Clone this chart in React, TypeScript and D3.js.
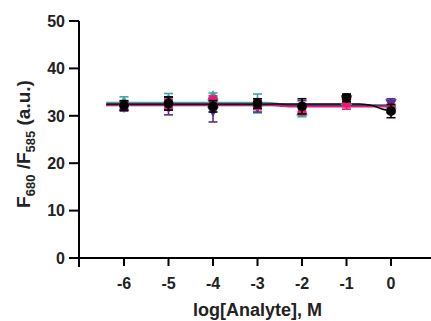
import React from "react";
import * as d3 from "d3";

// concentrations (log M)
const concentrations = [-6, -5, -4, -3, -2, -1, 0];
const xTicks = [-6, -5, -4, -3, -2, -1, 0];
const yTicks = [0, 10, 20, 30, 40, 50];

// mean ratios and SD per analyte
const tealMean = [32.8, 33.2, 34.0, 32.6, 30.8, 33.0, 32.2];
const tealErr = [1.2, 1.5, 0.8, 2.0, 1.0, 1.0, 1.0];
const purpleMean = [32.0, 32.0, 31.2, 32.0, 32.0, 33.6, 32.8];
const purpleErr = [1.0, 1.8, 2.5, 1.2, 1.2, 0.8, 0.8];
const pinkMean = [32.0, 32.4, 33.2, 32.3, 31.2, 32.6, 31.4];
const pinkErr = [0.8, 1.0, 1.0, 1.0, 1.0, 1.2, 0.8];
const blackMean = [32.2, 32.6, 32.0, 32.6, 32.0, 33.8, 31.0];
const blackErr = [1.0, 1.4, 1.2, 1.0, 1.6, 0.8, 1.4];

// fitted curves
const tealFitX = [-6.4, -2.8, -2.5, -2.2, 0];
const tealFitY = [32.8, 32.8, 32.5, 32.2, 32.2];
const pinkFitX = [-6.4, -2.8, -2.5, -2.2, 0];
const pinkFitY = [32.3, 32.3, 32.1, 31.9, 31.9];
const purpleFitX = [-6.4, 0];
const purpleFitY = [32.2, 32.2];
const blackFitX = [-6.4, -0.7, -0.4, -0.15, 0];
const blackFitY = [32.5, 32.5, 32.1, 31.3, 31.1];

const font = "'Liberation Sans', Arial, sans-serif";

const series = [
  { name: "teal", color: "#3aa8a2", mean: tealMean, err: tealErr, fx: tealFitX, fy: tealFitY, shape: "triangle" },
  { name: "purple", color: "#5b2d8c", mean: purpleMean, err: purpleErr, fx: purpleFitX, fy: purpleFitY, shape: "triangleDown" },
  { name: "pink", color: "#ec1a72", mean: pinkMean, err: pinkErr, fx: pinkFitX, fy: pinkFitY, shape: "square" },
  { name: "black", color: "#000000", mean: blackMean, err: blackErr, fx: blackFitX, fy: blackFitY, shape: "circle" },
];

const App = () => {
  const width = 431;
  const height = 321;
  const axisX = 79;
  const axisY = 258;

  const xScale = d3.scaleLinear().domain([-6, 0]).range([124, 391]);
  const yScale = d3.scaleLinear().domain([0, 50]).range([axisY, 21]);

  const line = d3
    .line<[number, number]>()
    .x((d) => xScale(d[0]))
    .y((d) => yScale(d[1]))
    .curve(d3.curveMonotoneX);

  const symbolFor = (shape: string) =>
    shape === "triangle"
      ? d3.symbol().type(d3.symbolTriangle).size(60)()
      : shape === "triangleDown"
      ? d3.symbol().type(d3.symbolTriangle).size(60)()
      : shape === "square"
      ? d3.symbol().type(d3.symbolSquare).size(70)()
      : d3.symbol().type(d3.symbolCircle).size(75)();

  return (
    <svg
      width={width}
      height={height}
      style={{ position: "absolute", left: 0, top: 0, background: "#fff" }}
    >
      {/* fitted lines */}
      {series.map((s) => (
        <path
          key={s.name + "-fit"}
          d={line(s.fx.map((x, i) => [x, s.fy[i]] as [number, number])) || ""}
          fill="none"
          stroke={s.color}
          strokeWidth={1.6}
        />
      ))}

      {/* error bars + markers */}
      {series.map((s) => (
        <g key={s.name}>
          {concentrations.map((c, i) => {
            const cx = xScale(c);
            const yTop = yScale(s.mean[i] + s.err[i]);
            const yBot = yScale(s.mean[i] - s.err[i]);
            return (
              <g key={c} stroke={s.color} strokeWidth={1.6}>
                <line x1={cx} x2={cx} y1={yTop} y2={yBot} />
                <line x1={cx - 4.5} x2={cx + 4.5} y1={yTop} y2={yTop} />
                <line x1={cx - 4.5} x2={cx + 4.5} y1={yBot} y2={yBot} />
              </g>
            );
          })}
          {concentrations.map((c, i) => (
            <path
              key={"m" + c}
              d={symbolFor(s.shape) || ""}
              transform={`translate(${xScale(c)},${yScale(s.mean[i])})${
                s.shape === "triangleDown" ? " rotate(180)" : ""
              }`}
              fill={s.color}
            />
          ))}
        </g>
      ))}

      {/* y axis */}
      <line x1={axisX} x2={axisX} y1={yScale(50)} y2={axisY + 9} stroke="#000" strokeWidth={2} />
      {yTicks.map((t) => (
        <g key={t}>
          <line x1={axisX - 10} x2={axisX} y1={yScale(t)} y2={yScale(t)} stroke="#000" strokeWidth={2} />
          <text
            x={axisX - 14}
            y={yScale(t)}
            dy="0.36em"
            textAnchor="end"
            fontFamily={font}
            fontWeight="bold"
            fontSize={16}
            fill="#222"
          >
            {t}
          </text>
        </g>
      ))}

      {/* x axis */}
      <line x1={axisX} x2={width} y1={axisY} y2={axisY} stroke="#000" strokeWidth={2} />
      {xTicks.map((t) => (
        <g key={t}>
          <line x1={xScale(t)} x2={xScale(t)} y1={axisY} y2={axisY + 8} stroke="#000" strokeWidth={2} />
          <text
            x={xScale(t)}
            y={283}
            dy="0.36em"
            textAnchor="middle"
            fontFamily={font}
            fontWeight="bold"
            fontSize={16}
            fill="#222"
          >
            {t}
          </text>
        </g>
      ))}

      {/* axis titles */}
      <text
        x={(xScale(-6) + xScale(0)) / 2}
        y={310}
        dy="0.36em"
        textAnchor="middle"
        fontFamily={font}
        fontWeight="bold"
        fontSize={18}
        fill="#222"
      >
        log[Analyte], M
      </text>
      <text
        transform="translate(30,144) rotate(-90)"
        textAnchor="middle"
        fontFamily={font}
        fontWeight="bold"
        fontSize={19}
        fill="#222"
      >
        F<tspan fontSize={13} dy={5}>680</tspan>
        <tspan dy={-5}> /F</tspan>
        <tspan fontSize={13} dy={5}>585</tspan>
        <tspan dy={-5}> (a.u.)</tspan>
      </text>
    </svg>
  );
};

export default App;
